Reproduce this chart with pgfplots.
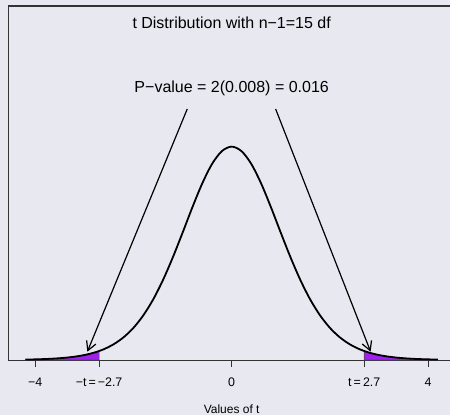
\documentclass[border=0pt]{standalone}
\usepackage{fontspec}
\setmainfont{Liberation Sans}
\usepackage{pgfplots}
\pgfplotsset{compat=1.18}
\usetikzlibrary{arrows.meta}

\definecolor{bg}{HTML}{E8E8F0}
\definecolor{rpurple}{HTML}{A020F0}
\definecolor{frame}{HTML}{333333}

% t density with 15 df, read at steps of 0.2
\pgfplotstableread{
x y
-4.2 0.00078
-4.0 0.00118
-3.8 0.00178
-3.6 0.00269
-3.4 0.00406
-3.2 0.00611
-3.0 0.00913
-2.8 0.0136
-2.6 0.0200
-2.4 0.0292
-2.2 0.0419
-2.0 0.0592
-1.8 0.0821
-1.6 0.1112
-1.4 0.1469
-1.2 0.1885
-1.0 0.2341
-0.8 0.2809
-0.6 0.3246
-0.4 0.3605
-0.2 0.3841
0.0 0.3924
0.2 0.3841
0.4 0.3605
0.6 0.3246
0.8 0.2809
1.0 0.2341
1.2 0.1885
1.4 0.1469
1.6 0.1112
1.8 0.0821
2.0 0.0592
2.2 0.0419
2.4 0.0292
2.6 0.0200
2.8 0.0136
3.0 0.00913
3.2 0.00611
3.4 0.00406
3.6 0.00269
3.8 0.00178
4.0 0.00118
4.2 0.00078
}\tdens

\begin{document}
\begin{tikzpicture}
\fill[bg] (0,0) rectangle (450bp,415bp);
\path[use as bounding box] (0,0) rectangle (450bp,415bp);
\begin{axis}[
    at={(8.3bp,55bp)}, anchor=south west,
    scale only axis,
    width=441.7bp, height=354bp,
    xmin=-4.55, xmax=4.447,
    ymin=0, ymax=0.651,
    axis line style={draw=none},
    ytick=\empty,
    xtick={-4,-2.7,0,2.7,4},
    xticklabels={−4, −t\,=\,−2.7, 0, t\,=\,2.7, 4},
    xtick pos=bottom,
    tick align=outside,
    major tick length=6.5bp,
    tick style={frame, line width=0.9bp},
    xticklabel style={font=\fontsize{12.4bp}{14bp}\selectfont, anchor=base, yshift=-20bp},
    clip=false,
]
% frame: left, top, bottom
\draw[frame, line width=1.1bp] (rel axis cs:0,0) -- (rel axis cs:0,1) -- (rel axis cs:1.05,1);
\draw[frame, line width=1bp] (rel axis cs:0,0) -- (rel axis cs:1.05,0);

% shaded tails
\addplot[fill=rpurple, draw=black!70, line width=0.6bp] coordinates {
  (-4.2,0) (-4.2,0.00078) (-4.0,0.00118) (-3.8,0.00178) (-3.6,0.00269)
  (-3.4,0.00406) (-3.2,0.00611) (-3.0,0.00913) (-2.8,0.0136) (-2.7,0.0165) (-2.7,0)
} -- cycle;
\addplot[fill=rpurple, draw=black!70, line width=0.6bp] coordinates {
  (2.7,0) (2.7,0.0165) (2.8,0.0136) (3.0,0.00913) (3.2,0.00611) (3.4,0.00406)
  (3.6,0.00269) (3.8,0.00178) (4.0,0.00118) (4.2,0.00078) (4.2,0)
} -- cycle;

% density curve
\addplot[black, line width=1.8bp, smooth] table[x=x, y=y] {\tdens};

% arrows
\addplot[black, line width=1.2bp, -{Straight Barb[length=9bp, width=10bp, line width=1.2bp]}]
  coordinates {(-0.905,0.4616) (-2.94,0.0153)};
\addplot[black, line width=1.2bp, -{Straight Barb[length=9bp, width=10bp, line width=1.2bp]}]
  coordinates {(0.895,0.4616) (2.83,0.0153)};

% texts
\node[anchor=base, font=\fontsize{16bp}{19bp}\selectfont] at (axis cs:0,0.6087) {t Distribution with n−1=15 df};
\node[anchor=base, font=\fontsize{16bp}{19bp}\selectfont] at (axis cs:0,0.4915) {P−value = 2(0.008) = 0.016};
\node[anchor=base, font=\fontsize{12bp}{14bp}\selectfont] at (axis cs:0,-0.0975) {Values of t};
\end{axis}
\end{tikzpicture}
\end{document}
